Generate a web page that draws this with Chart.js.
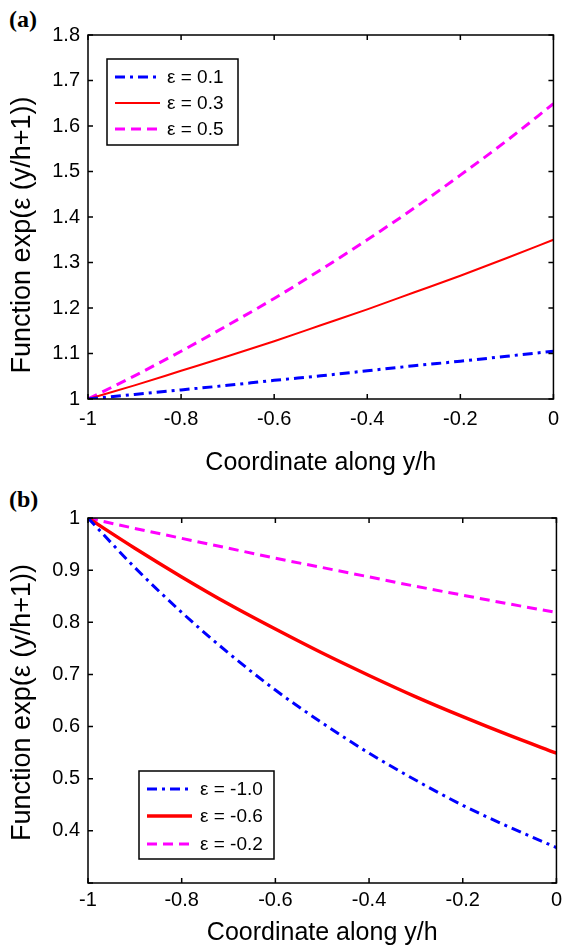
<!DOCTYPE html>
<html>
<head>
<meta charset="utf-8">
<script src="https://cdn.jsdelivr.net/npm/chart.js@4.4.0/dist/chart.umd.min.js"></script>
<style>
  body { margin: 0; background: #fff; }
  #page { position: relative; width: 567px; height: 947px; overflow: hidden; background: #fff; }
  .panel { position: absolute; left: 0; width: 567px; }
  .tag { position: absolute; font: bold 24px "Liberation Serif", serif; color: #000; }
</style>
</head>
<body>
<div id="page">
  <div class="tag" style="left:9px; top:6px;">(a)</div>
  <div class="tag" style="left:9px; top:486px;">(b)</div>
  <div class="panel" style="top:0; height:480px;"><canvas id="chartA" width="567" height="480"></canvas></div>
  <div class="panel" style="top:480px; height:467px;"><canvas id="chartB" width="567" height="467"></canvas></div>
</div>
<script>
// x positions along y/h
const coordX = [-1, -0.9, -0.8, -0.7, -0.6, -0.5, -0.4, -0.3, -0.2, -0.1, 0]

// panel (a), positive epsilon
const labelsA = ['ε = 0.1', 'ε = 0.3', 'ε = 0.5']
const eps01 = [1.000, 1.010, 1.020, 1.030, 1.041, 1.051, 1.062, 1.073, 1.083, 1.094, 1.105]
const eps03 = [1.000, 1.030, 1.062, 1.094, 1.127, 1.162, 1.197, 1.234, 1.271, 1.310, 1.350]
const eps05 = [1.000, 1.051, 1.105, 1.162, 1.221, 1.284, 1.350, 1.419, 1.492, 1.568, 1.649]

// panel (b), negative epsilon
const labelsB = ['ε = -1.0', 'ε = -0.6', 'ε = -0.2']
const epsM10 = [1.000, 0.905, 0.819, 0.741, 0.670, 0.607, 0.549, 0.497, 0.449, 0.407, 0.368]
const epsM06 = [1.000, 0.942, 0.887, 0.835, 0.787, 0.741, 0.698, 0.657, 0.619, 0.583, 0.549]
const epsM02 = [1.000, 0.980, 0.961, 0.942, 0.923, 0.905, 0.887, 0.869, 0.852, 0.835, 0.819]

const xTitle = 'Coordinate along y/h'
const yTitle = 'Function exp(ε (y/h+1))'

const FONT = '"Liberation Sans", Arial, sans-serif'

const toPoints = ys => ys.map((y, i) => ({ x: coordX[i], y: y }))

// box around the plot and inward ticks on all four sides, like matlab
const frameTicks = {
  id: 'frameTicks',
  afterDraw(chart) {
    const { ctx, chartArea: a, scales } = chart
    const len = 5
    ctx.save()
    ctx.strokeStyle = '#000'
    ctx.lineWidth = 1.5
    ctx.strokeRect(a.left, a.top, a.right - a.left, a.bottom - a.top)
    ctx.beginPath()
    scales.x.ticks.forEach(t => {
      const px = scales.x.getPixelForValue(t.value)
      ctx.moveTo(px, a.bottom); ctx.lineTo(px, a.bottom - len)
      ctx.moveTo(px, a.top); ctx.lineTo(px, a.top + len)
    })
    scales.y.ticks.forEach(t => {
      const py = scales.y.getPixelForValue(t.value)
      ctx.moveTo(a.left, py); ctx.lineTo(a.left + len, py)
      ctx.moveTo(a.right, py); ctx.lineTo(a.right - len, py)
    })
    ctx.stroke()
    ctx.restore()
  }
}

// rotated y axis title, shifted a little as in the original
const yLabel = {
  id: 'yLabel',
  afterDraw(chart, args, opts) {
    const { ctx, chartArea: a } = chart
    ctx.save()
    ctx.translate(opts.x, (a.top + a.bottom) / 2 + opts.dy)
    ctx.rotate(-Math.PI / 2)
    ctx.fillStyle = '#000'
    ctx.font = '27px ' + FONT
    ctx.textAlign = 'center'
    ctx.textBaseline = 'middle'
    ctx.fillText(yTitle, 0, 0)
    ctx.restore()
  }
}

// legend box drawn inside the plot area
const boxLegend = {
  id: 'boxLegend',
  afterDraw(chart, args, opts) {
    const { ctx, chartArea: a } = chart
    const bx = a.left + opts.dx, by = a.top + opts.dy
    ctx.save()
    ctx.fillStyle = '#fff'
    ctx.fillRect(bx, by, opts.w, opts.h)
    ctx.strokeStyle = '#000'
    ctx.lineWidth = 1.5
    ctx.strokeRect(bx, by, opts.w, opts.h)
    chart.data.datasets.forEach((ds, i) => {
      const ry = by + opts.rows[i]
      ctx.beginPath()
      ctx.strokeStyle = ds.borderColor
      ctx.lineWidth = ds.borderWidth
      ctx.setLineDash(ds.borderDash || [])
      ctx.moveTo(bx + opts.lineX0, ry)
      ctx.lineTo(bx + opts.lineX1, ry)
      ctx.stroke()
      ctx.setLineDash([])
      ctx.fillStyle = '#000'
      ctx.font = '19px ' + FONT
      ctx.textBaseline = 'middle'
      ctx.fillText(ds.label, bx + opts.textX, ry + 1)
    })
    ctx.restore()
  }
}

function makePanel(id, datasets, yOpts, layout) {
  new Chart(document.getElementById(id), {
    type: 'line',
    data: { datasets: datasets },
    options: {
      responsive: false,
      animation: false,
      layout: { padding: { top: layout.top, right: 7, left: 0, bottom: 0 } },
      plugins: {
        legend: { display: false },
        tooltip: { enabled: false },
        boxLegend: layout.legend,
        yLabel: { x: 23, dy: layout.titleDy }
      },
      elements: { point: { radius: 0 }, line: { tension: 0.4, cubicInterpolationMode: 'monotone' } },
      scales: {
        x: {
          type: 'linear',
          min: -1,
          max: 0,
          grid: { display: false, drawTicks: false },
          border: { display: false },
          ticks: {
            stepSize: 0.2,
            color: '#000',
            font: { family: FONT, size: 20 },
            padding: layout.xPad,
            maxRotation: 0,
            callback: v => String(Math.round(v * 10) / 10)
          },
          title: { display: true, text: xTitle, color: '#000', font: { family: FONT, size: 25, lineHeight: 1 }, padding: { top: 0, bottom: layout.titlePad } },
          afterFit: s => { s.height = layout.xHeight }
        },
        y: {
          min: yOpts.min,
          max: yOpts.max,
          grid: { display: false, drawTicks: false },
          border: { display: false },
          ticks: {
            stepSize: 0.1,
            color: '#000',
            font: { family: FONT, size: 20 },
            padding: 8,
            callback: v => (yOpts.hide.includes(Math.round(v * 10) / 10) ? '' : String(Math.round(v * 10) / 10))
          },
          afterFit: s => { s.width = 88 }
        }
      }
    },
    plugins: [frameTicks, boxLegend, yLabel]
  })
}

makePanel('chartA', [
  { label: labelsA[0], data: toPoints(eps01), borderColor: '#0000ff', borderWidth: 3, borderDash: [10, 5, 3, 5] },
  { label: labelsA[1], data: toPoints(eps03), borderColor: '#ff0000', borderWidth: 2 },
  { label: labelsA[2], data: toPoints(eps05), borderColor: '#ff00ff', borderWidth: 3, borderDash: [10, 6] }
], { min: 1, max: 1.8, hide: [] }, {
  top: 35, xHeight: 81, xPad: 8, titlePad: 4, titleDy: 18,
  legend: { dx: 19, dy: 24, w: 131, h: 86, rows: [18, 44, 70], lineX0: 8, lineX1: 53, textX: 60 }
})

makePanel('chartB', [
  { label: labelsB[0], data: toPoints(epsM10), borderColor: '#0000ff', borderWidth: 3, borderDash: [10, 5, 3, 5] },
  { label: labelsB[1], data: toPoints(epsM06), borderColor: '#ff0000', borderWidth: 3.5 },
  { label: labelsB[2], data: toPoints(epsM02), borderColor: '#ff00ff', borderWidth: 3, borderDash: [10, 6] }
], { min: 0.3, max: 1, hide: [0.3] }, {
  top: 38, xHeight: 64, xPad: 5, titlePad: 1, titleDy: 2,
  legend: { dx: 51, dy: 253, w: 135, h: 88, rows: [18, 45, 73], lineX0: 8, lineX1: 53, textX: 61 }
})
</script>
</body>
</html>
